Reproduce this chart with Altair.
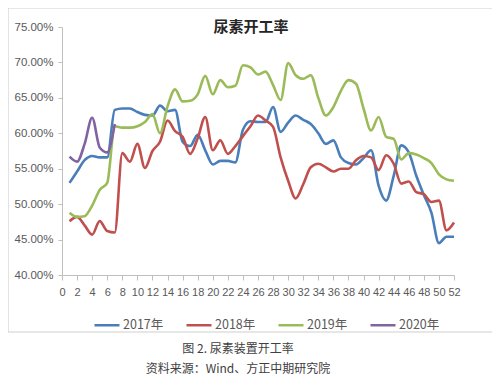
import altair as alt
import pandas as pd

weeks = list(range(1, 53))
s2017 = [53.0, 54.6, 56.2, 56.8, 56.6, 56.6, 63.3, 63.5, 63.5, 63.0,
         62.6, 62.5, 63.9, 63.1, 63.3, 58.8, 58.2, 59.8, 57.6, 55.6,
         56.1, 56.1, 55.9, 60.5, 61.7, 61.6, 61.6, 63.7, 60.2, 61.5,
         62.5, 61.9, 61.3, 60.0, 58.5, 59.0, 56.6, 55.8, 55.6, 56.5,
         57.6, 52.6, 50.5, 54.0, 58.3, 57.3, 54.0, 51.3, 48.8, 44.5,
         45.4, 45.4]
s2018 = [47.6, 48.2, 47.0, 45.7, 47.6, 46.2, 46.0, 57.2, 56.0, 58.5,
         55.1, 57.5, 58.8, 61.8, 60.3, 59.5, 57.1, 59.3, 62.3, 57.6,
         59.0, 57.1, 58.2, 59.6, 61.0, 62.5, 61.8, 60.9, 56.6, 53.3,
         50.8, 52.8, 55.2, 55.7, 55.2, 54.6, 55.0, 55.0, 56.2, 56.8,
         56.6, 54.8, 56.9, 55.7, 52.9, 53.2, 51.7, 51.4, 50.3, 50.5,
         46.3, 47.4]
s2019 = [48.8, 48.2, 48.3, 49.8, 52.0, 53.0, 61.0, 60.8, 60.8, 61.0,
         61.6, 62.7, 60.0, 63.8, 66.2, 64.5, 64.6, 65.5, 68.1, 65.5,
         67.5, 66.5, 66.7, 69.6, 69.3, 68.3, 68.7, 66.8, 64.7, 69.9,
         68.2, 67.7, 68.2, 65.0, 62.5, 63.7, 66.0, 67.5, 67.0, 63.5,
         60.4, 62.3, 59.5, 59.2, 56.3, 57.2, 57.0, 56.5, 55.8, 54.2,
         53.5, 53.3]
s2020 = [56.7, 56.0, 58.5, 62.2, 58.0, 57.3, 61.3]

series_names = ["2017年", "2018年", "2019年", "2020年"]
series_vals = [s2017, s2018, s2019, s2020]
colors = ["#4A7EBB", "#C0504D", "#9BBB59", "#8064A2"]

x_ticks = list(range(0, 53, 2))
y_ticks = [0.40, 0.45, 0.50, 0.55, 0.60, 0.65, 0.70, 0.75]

title_text = "尿素开工率"
caption1 = "图 2. 尿素装置开工率"
caption2 = "资料来源：Wind、方正中期研究院"

rows = []
for name, vals in zip(series_names, series_vals):
    for w, v in zip(weeks, vals):
        rows.append({"week": w, "rate": v / 100.0, "series": name})
df = pd.DataFrame(rows)

W, H = 392, 248

lines = alt.Chart(df).mark_line(strokeWidth=2.6, interpolate="monotone").encode(
    x=alt.X("week:Q", scale=alt.Scale(domain=[0, 52], nice=False),
            axis=alt.Axis(values=x_ticks, title=None, grid=False, labelOverlap=False,
                          labelFlush=False, tickSize=5, labelPadding=6,
                          domainColor="#bfbfbf", tickColor="#bfbfbf",
                          labelColor="#595959", labelFontSize=11,
                          labelFont="Liberation Sans", zindex=1)),
    y=alt.Y("rate:Q", scale=alt.Scale(domain=[0.40, 0.75], nice=False, zero=False),
            axis=alt.Axis(values=y_ticks, format=".2%", title=None, grid=False,
                          tickSize=4, labelPadding=5,
                          domainColor="#bfbfbf", tickColor="#bfbfbf",
                          labelColor="#595959", labelFontSize=11.5,
                          labelFont="Liberation Sans", zindex=1)),
    color=alt.Color("series:N", scale=alt.Scale(domain=series_names, range=colors),
                    legend=alt.Legend(title=None, orient="none", direction="horizontal",
                                      legendX=31, legendY=284, symbolType="stroke",
                                      symbolSize=625, symbolStrokeWidth=2.5,
                                      labelFontSize=12.5, labelColor="#595959",
                                      labelFont="Noto Sans CJK SC", columnPadding=17,
                                      labelOffset=2)),
)

one = pd.DataFrame({"k": [0]})
frame = alt.Chart(one).mark_rect(fill="white", fillOpacity=0, stroke="#d0d0d0",
                                 strokeWidth=1.2).encode(
    x=alt.value(-54), x2=alt.value(433), y=alt.value(-19), y2=alt.value(305)
)

title = alt.Chart(one).mark_text(text=title_text, font="Noto Sans CJK SC", fontSize=15,
                                 fontWeight="bold", color="#262626", align="center",
                                 baseline="middle").encode(
    x=alt.value(189), y=alt.value(0)
)

cap1 = alt.Chart(one).mark_text(text=caption1, font="Noto Sans CJK SC", fontSize=12,
                                color="#404040", align="center", baseline="middle").encode(
    x=alt.value(176), y=alt.value(322)
)
cap2 = alt.Chart(one).mark_text(text=caption2, font="Noto Sans CJK SC", fontSize=12,
                                color="#404040", align="center", baseline="middle").encode(
    x=alt.value(176), y=alt.value(342)
)

chart = alt.layer(frame, lines, title, cap1, cap2).properties(
    width=W, height=H,
    padding={"left": 54, "top": 19, "right": 38, "bottom": 104},
    autosize=alt.AutoSizeParams(type="none"),
    background="white",
).configure_view(stroke=None)

chart.save("out.html", embed_options={"renderer": "svg", "actions": False})
